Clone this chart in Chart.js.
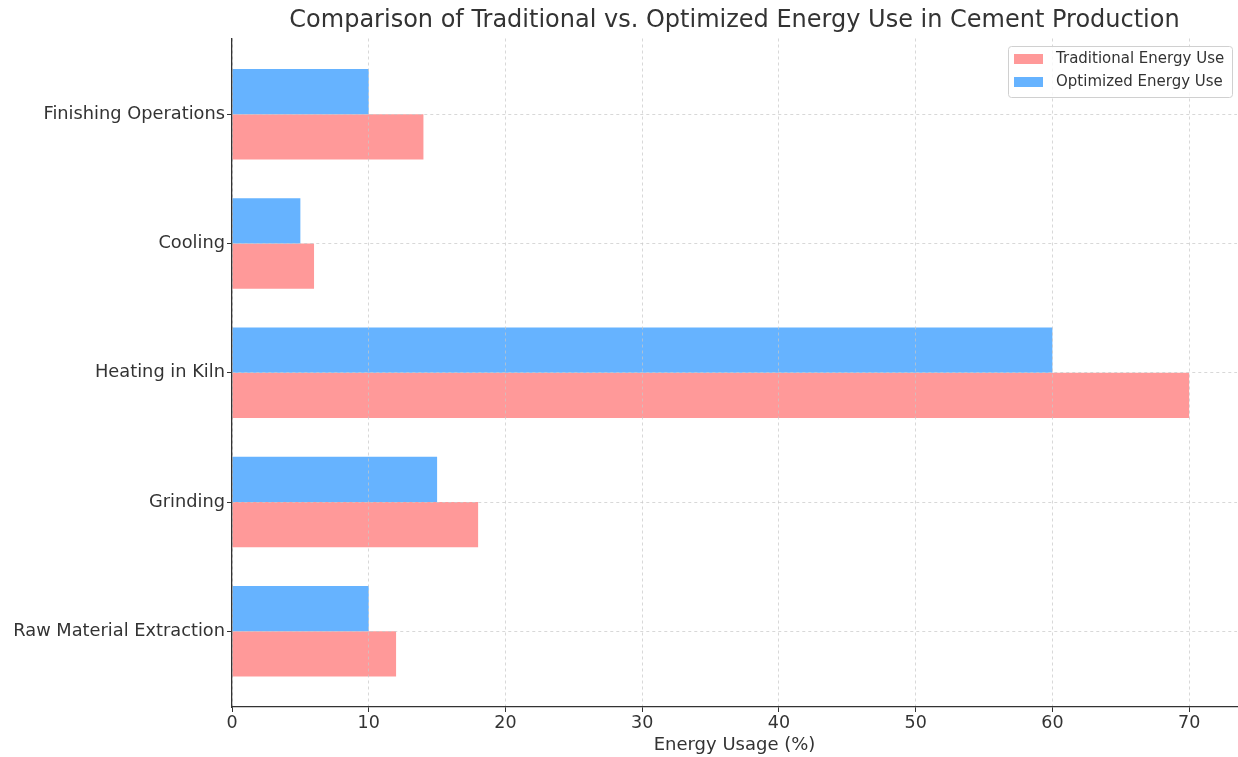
<!DOCTYPE html>
<html>
<head>
<meta charset="utf-8">
<script src="https://cdn.jsdelivr.net/npm/chart.js@4"></script>
<style>
  html, body { margin: 0; padding: 0; background: #fff; }
  #wrap { width: 1238px; height: 757px; }
</style>
</head>
<body>
<div id="wrap"><canvas id="chart" width="1238" height="757"></canvas></div>
<script>
// stages, bottom to top as in the picture
const stages = ["Raw Material Extraction", "Grinding", "Heating in Kiln", "Cooling", "Finishing Operations"];
const traditionalUse = [12, 18, 70, 6, 14];
const optimizedUse = [10, 15, 60, 5, 10];
const xTicks = [0, 10, 20, 30, 40, 50, 60, 70];

const chartTitle = "Comparison of Traditional vs. Optimized Energy Use in Cement Production";
const FONT = "'DejaVu Sans', sans-serif";
const TEXT = "#333";
const GRID = "rgba(200,200,200,0.7)";

const toPoints = (vals) => vals.map((v, i) => ({ x: v, y: i }));

// title centred over the plot area (not the whole canvas)
const axesTitle = {
  id: "axesTitle",
  afterDraw(chart) {
    const { ctx, chartArea } = chart;
    ctx.save();
    ctx.font = "24px " + FONT;
    ctx.fillStyle = TEXT;
    ctx.textAlign = "center";
    ctx.textBaseline = "middle";
    ctx.fillText(chartTitle, (chartArea.left + chartArea.right) / 2, 21);
    ctx.restore();
  }
};

// legend drawn inside the plot, top right
const boxLegend = {
  id: "boxLegend",
  afterDraw(chart) {
    const ctx = chart.ctx;
    const items = [chart.data.datasets[1], chart.data.datasets[0]];
    const x = 1008, y = 46, w = 224, h = 51;
    ctx.save();
    ctx.fillStyle = "rgba(255,255,255,0.8)";
    ctx.strokeStyle = "#d0d0d0";
    ctx.lineWidth = 1;
    ctx.beginPath();
    ctx.roundRect(x + 0.5, y + 0.5, w, h, 3);
    ctx.fill();
    ctx.stroke();
    ctx.font = "15px " + FONT;
    ctx.textBaseline = "middle";
    items.forEach((ds, i) => {
      const cy = y + 13 + i * 23;
      ctx.fillStyle = ds.backgroundColor;
      ctx.fillRect(x + 6, cy - 5, 29, 10);
      ctx.fillStyle = TEXT;
      ctx.fillText(ds.label, x + 48, cy);
    });
    ctx.restore();
  }
};

new Chart(document.getElementById("chart"), {
  type: "bar",
  data: {
    datasets: [
      {
        label: "Optimized Energy Use",
        data: toPoints(optimizedUse),
        backgroundColor: "#66b3ff",
        categoryPercentage: 0.7,
        barPercentage: 1.0,
      },
      {
        label: "Traditional Energy Use",
        data: toPoints(traditionalUse),
        backgroundColor: "#ff9999",
        categoryPercentage: 0.7,
        barPercentage: 1.0,
      },
    ],
  },
  options: {
    indexAxis: "y",
    responsive: false,
    animation: false,
    layout: { padding: { left: 0, right: 1, top: 38.5, bottom: 0 } },
    plugins: {
      legend: { display: false },
      tooltip: { enabled: false },
      title: { display: false },
    },
    scales: {
      x: {
        type: "linear",
        min: 0,
        max: 73.5,
        afterBuildTicks: (axis) => { axis.ticks = xTicks.map((v) => ({ value: v })); },
        afterFit: (axis) => { axis.height = 50; },
        ticks: { color: TEXT, font: { family: FONT, size: 17.5 }, padding: 1 },
        grid: { color: GRID, tickColor: TEXT, tickLength: 5, tickBorderDash: [], z: 1 },
        border: { color: TEXT, width: 1.3, dash: [3, 3], z: 1 },
        title: {
          display: true,
          text: "Energy Usage (%)",
          color: TEXT,
          font: { family: FONT, size: 18 },
          padding: { top: 2, bottom: 1 },
        },
      },
      y: {
        type: "linear",
        min: -0.585,
        max: 4.585,
        offset: false,
        afterBuildTicks: (axis) => { axis.ticks = stages.map((s, i) => ({ value: i })); },
        afterFit: (axis) => { axis.width = 232; },
        ticks: {
          color: TEXT,
          font: { family: FONT, size: 17.8 },
          padding: 2,
          callback: (v) => stages[v],
        },
        grid: { color: GRID, tickColor: TEXT, tickLength: 5, tickBorderDash: [], offset: false, z: 1 },
        border: { color: TEXT, width: 1.3, dash: [3, 3], z: 1 },
      },
    },
  },
  plugins: [axesTitle, boxLegend],
});
</script>
</body>
</html>
